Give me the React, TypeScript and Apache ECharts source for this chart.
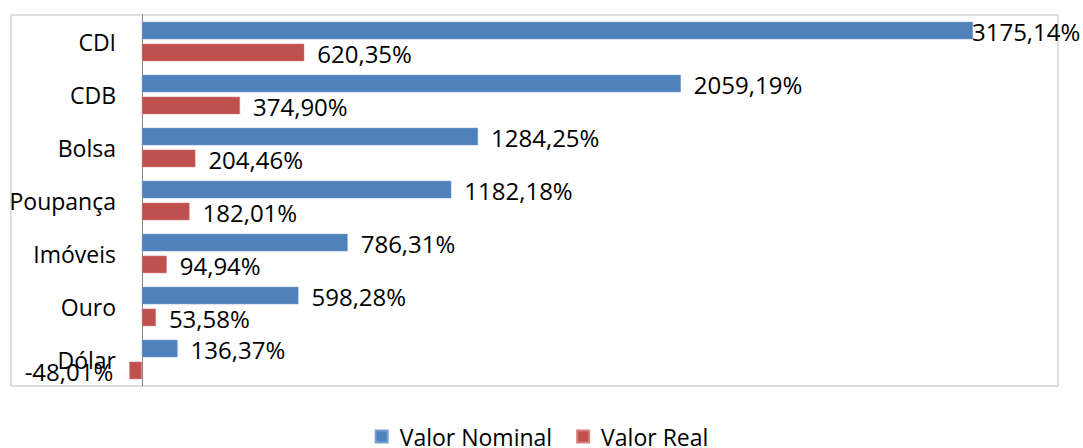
import React, { useEffect, useRef } from "react";
import * as echarts from "echarts";

const categories = ["CDI", "CDB", "Bolsa", "Poupança", "Imóveis", "Ouro", "Dólar"];
const nominal = [3175.14, 2059.19, 1284.25, 1182.18, 786.31, 598.28, 136.37];
const real = [620.35, 374.9, 204.46, 182.01, 94.94, 53.58, -48.01];
const seriesNames = ["Valor Nominal", "Valor Real"];

const FONT = "'Open Sans', 'Noto Sans', sans-serif";
const fmt = (v: number) => v.toFixed(2).replace(".", ",") + "%";

export default function App() {
  const ref = useRef<HTMLDivElement>(null);
  useEffect(() => {
    document.body.style.margin = "0";
    const chart = echarts.init(ref.current!, null, { renderer: "svg" });
    const labelBase = {
      show: true,
      position: "right" as const,
      distance: 13,
      fontFamily: FONT,
      fontSize: 24,
      color: "#000",
      offset: [0, 1],
      formatter: (p: any) => fmt(p.value),
    };
    chart.setOption({
      animation: false,
      textStyle: { fontFamily: FONT },
      grid: {
        left: 11,
        right: 25,
        top: 15,
        bottom: 62,
        show: true,
        borderColor: "#bfbfbf",
        borderWidth: 1,
        containLabel: false,
        outerBoundsMode: "none",
      },
      legend: {
        data: seriesNames,
        bottom: -5,
        left: "center",
        itemWidth: 12,
        itemHeight: 12,
        itemGap: 24,
        icon: "rect",
        textStyle: { fontFamily: FONT, fontSize: 23, color: "#000", padding: [0, 0, 0, 7] },
      },
      xAxis: {
        type: "value",
        min: -500,
        max: 3500,
        interval: 500,
        axisLabel: { show: false },
        axisLine: { show: false },
        axisTick: { show: false },
        splitLine: { show: false },
      },
      yAxis: {
        type: "category",
        data: categories,
        inverse: true,
        axisLine: { show: true, onZero: true, lineStyle: { color: "#868686", width: 1 } },
        axisTick: { show: false },
        axisLabel: { margin: -105, fontFamily: FONT, fontSize: 23, color: "#000", align: "right" },
      },
      series: [
        {
          name: seriesNames[0],
          type: "bar",
          data: nominal.map((v, i) =>
            i === 0 ? { value: v, label: { distance: -1 } } : v
          ),
          barWidth: 17.5,
          barGap: "25%",
          itemStyle: { color: "#4f81bd", borderColor: "#7a9fd0", borderWidth: 0.5 },
          label: labelBase,
        },
        {
          name: seriesNames[1],
          type: "bar",
          data: real.map((v) =>
            v < 0 ? { value: v, label: { position: "left", distance: 16 } } : v
          ),
          barWidth: 17.5,
          barGap: "25%",
          itemStyle: { color: "#c0504d", borderColor: "#d47f7c", borderWidth: 0.5 },
          label: labelBase,
        },
      ],
    });
    return () => chart.dispose();
  }, []);
  return <div ref={ref} style={{ width: 1083, height: 448 }} />;
}
